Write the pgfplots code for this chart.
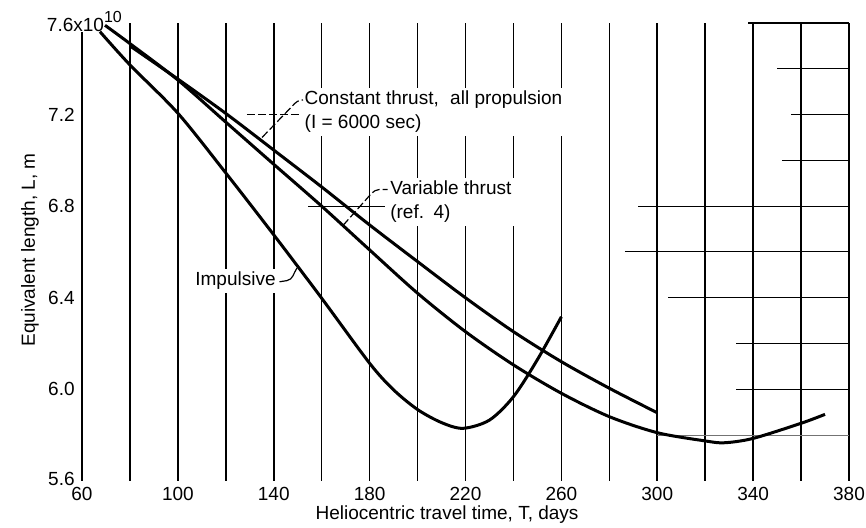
\documentclass[border=0pt]{standalone}
\usepackage{fontspec}
\setmainfont{Liberation Sans}
\usepackage{pgfplots}
\pgfplotsset{compat=1.18}

% Equivalent length (units of 1e10 m) against heliocentric travel time (days)
\begin{document}
\begin{tikzpicture}[font=\fontsize{9.5}{12}\selectfont]
\useasboundingbox (-41pt,-23.5pt) rectangle (392pt,240.5pt);
\begin{axis}[
  at={(0,0)}, anchor=south west,
  width=383.5pt, height=229pt, scale only axis,
  xmin=60, xmax=380, ymin=5.6, ymax=7.6,
  clip=false,
  axis line style={draw=none},
  major tick length=0pt, minor tick length=0pt,
  xtick={60,100,140,180,220,260,300,340,380},
  xticklabels={60,100,140,180,220,260,300,340,380},
  minor xtick={80,120,160,200,240,280,320,360},
  ytick={5.6,6.0,6.4,6.8,7.2},
  yticklabels={\raisebox{2.2pt}{5.6},6.0,6.4,6.8,7.2},
  xmajorgrids, xminorgrids,
  major grid style={black, line width=0.8pt},
  minor grid style={black, line width=0.8pt},
  xticklabel style={inner sep=0pt, anchor=north, yshift=-3pt},
  yticklabel style={inner sep=0pt, anchor=east, xshift=-3.5pt},
  /pgf/number format/assume math mode=true,
]
% partial horizontal rulings on the right-hand side
\draw[line width=0.7pt] (axis cs:338,7.6) -- (axis cs:380,7.6);
\draw[line width=0.7pt] (axis cs:350,7.4) -- (axis cs:380,7.4);
\draw[line width=0.7pt] (axis cs:356,7.2) -- (axis cs:380,7.2);
\draw[line width=0.7pt] (axis cs:352,7.0) -- (axis cs:380,7.0);
\draw[line width=0.55pt] (axis cs:292,6.8) -- (axis cs:380,6.8);
\draw[line width=0.5pt] (axis cs:286.5,6.6) -- (axis cs:380,6.6);
\draw[line width=0.55pt] (axis cs:304.5,6.4) -- (axis cs:380,6.4);
\draw[line width=0.55pt] (axis cs:333,6.2) -- (axis cs:380,6.2);
\draw[line width=0.55pt] (axis cs:333,6.0) -- (axis cs:380,6.0);
\draw[line width=0.6pt, black!55] (axis cs:300,5.8) -- (axis cs:380,5.8);
\draw[line width=0.55pt] (axis cs:154.3,6.8) -- (axis cs:186.4,6.8);

% top-left scale label
\node[anchor=base west, inner sep=0pt, fill=white] at (axis cs:60,7.6)
  [xshift=-17.7pt, yshift=-4.5pt] {7.6x10\raisebox{0.9ex}{\fontsize{8}{9}\selectfont 10}};
% left border below the scale label
\draw[line width=0.8pt] (axis cs:60,5.6) -- (axis cs:60,7.555);

% curve labels
\node[anchor=west, align=left, fill=white, inner sep=1.5pt] at (axis cs:151.5,7.212)
  {Constant thrust,\hspace{0.6em}all propulsion\\(I = 6000 sec)};
\node[anchor=west, align=left, fill=white, inner sep=1.5pt] at (axis cs:187.2,6.818)
  {Variable thrust\\(ref.\hspace{0.5em}4)};
\node[anchor=east, fill=white, inner sep=1.5pt] at (axis cs:142.2,6.473) {Impulsive};

% leaders
\draw[line width=0.6pt, dash pattern=on 4pt off 1.5pt] (axis cs:128.8,7.2) -- (axis cs:151,7.2);
\draw[line width=0.6pt, dash pattern=on 4pt off 1.5pt]
  (axis cs:135.1,7.1) -- (axis cs:148,7.24) to[out=48,in=180] (axis cs:152.2,7.264);
\draw[line width=0.6pt, dash pattern=on 4pt off 1.5pt]
  (axis cs:168.9,6.716) -- (axis cs:180.8,6.856) to[out=48,in=180] (axis cs:187.5,6.873);
\draw[line width=0.6pt]
  (axis cs:142.4,6.47) -- (axis cs:145.5,6.475) to[out=10,in=235] (axis cs:149.7,6.53);

% Impulsive
\addplot[black, line width=1.5pt, smooth] coordinates {
  (67.5,7.562) (80,7.417) (100,7.206) (120,6.945) (140,6.675) (160,6.398)
  (180,6.114) (190,5.998) (200,5.912) (210,5.855) (219,5.830) (230,5.866)
  (240,5.968) (250,6.13) (260,6.317)
};
% Variable thrust (ref. 4)
\addplot[black, line width=1.5pt, smooth] coordinates {
  (69.6,7.59) (80,7.51) (100,7.351) (120,7.167) (140,6.983) (160,6.80)
  (180,6.609) (200,6.42) (220,6.252) (240,6.107) (260,5.983) (280,5.881)
  (300,5.811) (320,5.775) (328,5.767) (340,5.786) (360,5.852) (370,5.891)
};
% Constant thrust, all propulsion
\addplot[black, line width=1.5pt, smooth] coordinates {
  (80,7.50) (100,7.355) (120,7.205) (140,7.045) (160,6.884) (180,6.718)
  (200,6.558) (220,6.40) (240,6.252) (260,6.121) (280,6.005) (300,5.898)
};

% axis titles
\node[anchor=north, inner sep=0pt] at (axis cs:212.3,5.6) [yshift=-12pt]
  {Heliocentric travel time, T, days};
\node[rotate=90, inner sep=0pt] at (axis cs:60,6.609) [yshift=26pt]
  {Equivalent length, L, m};
\end{axis}
\end{tikzpicture}
\end{document}
